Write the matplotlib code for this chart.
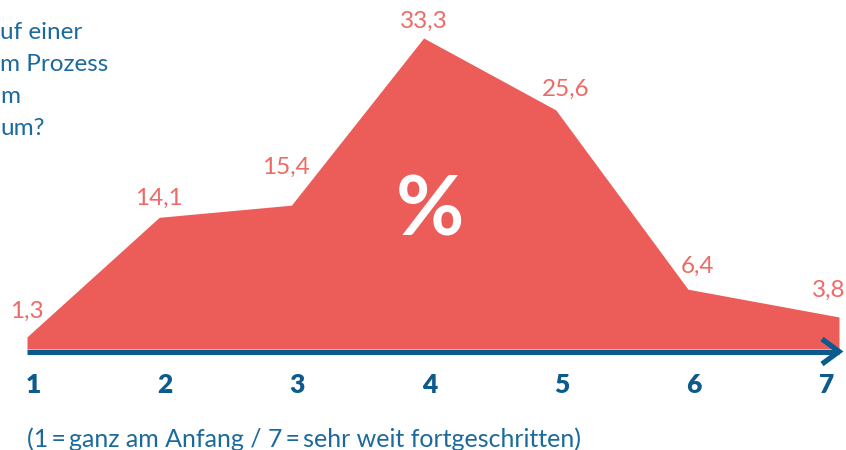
import matplotlib
matplotlib.use("Agg")
import matplotlib.pyplot as plt
from matplotlib.lines import Line2D
import numpy as np

# ---- data ----
categories = [1, 2, 3, 4, 5, 6, 7]
values = [1.3, 14.1, 15.4, 33.3, 25.6, 6.4, 3.8]
value_labels = ["1,3", "14,1", "15,4", "33,3", "25,6", "6,4", "3,8"]
tick_labels = ["1", "2", "3", "4", "5", "6", "7"]
title_lines = ["uf einer", "m Prozess", "m", "um?"]
footnote = "(1\u2009=\u2009ganz am Anfang / 7\u2009=\u2009sehr weit fortgeschritten)"

# ---- style ----
RED = "#EC5D5A"
RED_TXT = "#EE6A66"
BLUE = "#0D5A8C"
BLUE_TXT = "#1C6A9C"
FONT = ["Lato", "DejaVu Sans"]
plt.rcParams["font.family"] = FONT

W, H, DPI = 846, 450, 100
fig = plt.figure(figsize=(W / DPI, H / DPI), dpi=DPI)
ax = fig.add_axes([0, 0, 1, 1])
ax.set_axis_off()

# pixel geometry -> data limits
px_per_cat = 132.2
x0_px = 27.0
zero_px = 349.0
px_per_unit = 9.34
ax.set_xlim(1 - x0_px / px_per_cat, 1 + (W - x0_px) / px_per_cat)
ax.set_ylim(-(H - zero_px) / px_per_unit, zero_px / px_per_unit)

x = np.array(categories, dtype=float)
y = np.array(values, dtype=float)
x_end = 1 + (839 - x0_px) / px_per_cat  # arrow tip / end of area
xf = np.append(x, x_end)
yf = np.append(y, y[-1] + (y[-1] - y[-2]) * (x_end - x[-1]))
ax.fill_between(xf, 0, yf, color=RED, linewidth=0, zorder=1)

# baseline with arrow
line_y = -2.5 / px_per_unit
ax.plot([x[0], x_end], [line_y, line_y], color=BLUE, lw=3.7,
        solid_capstyle="butt", zorder=3)
tip_ax = (839 / W, (H - 351.5) / H)
dx, dy = 17 / W, 12.5 / H
ax.add_line(Line2D([tip_ax[0] - dx, tip_ax[0], tip_ax[0] - dx],
                   [tip_ax[1] + dy, tip_ax[1], tip_ax[1] - dy],
                   transform=ax.transAxes, color=BLUE, lw=3.8,
                   solid_joinstyle="miter", solid_capstyle="butt", zorder=4))

# value labels
offsets_px = [(0, 26), (0, 19), (-5, 38), (0, 17), (10, 21), (9, 23), (8, 23)]
for xi, yi, lab, (ox, oy) in zip(x, y, value_labels, offsets_px):
    ax.annotate(lab, (xi, yi), xytext=(ox * 0.72, oy * 0.72),
                textcoords="offset points", ha="center", va="center",
                color=RED_TXT, fontsize=17.5, fontweight="normal", zorder=5)

# category tick labels
for xi, t in zip(x, tick_labels):
    ax.annotate(t, (xi, 0), xytext=(6 * 0.72, -36 * 0.72),
                textcoords="offset points", ha="center", va="center",
                color=BLUE, fontsize=19, fontweight="heavy", zorder=5)

# percent sign
ax.text(430 / W, (H - 212) / H, "%", transform=ax.transAxes, ha="center",
        va="center", color="white", fontsize=60, fontweight="bold", zorder=5)

# top-left question text (fragment visible at the left edge as in the source)
for i, line in enumerate(title_lines):
    ax.text(0.5 / W, (H - (39 + 32 * i)) / H, line,
            transform=ax.transAxes, ha="left", va="baseline",
            color=BLUE_TXT, fontsize=17.5)

# footnote
ax.text(27 / W, (H - 447) / H, footnote, transform=ax.transAxes, ha="left",
        va="baseline", color=BLUE_TXT, fontsize=18)

fig.savefig("out.png", dpi=DPI)
